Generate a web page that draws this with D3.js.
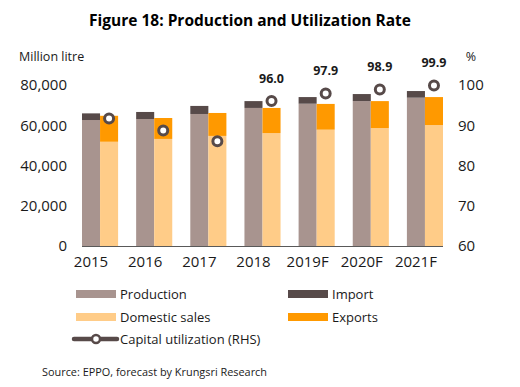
<!DOCTYPE html>
<html>
<head>
<meta charset="utf-8">
<script src="https://cdn.jsdelivr.net/npm/d3@7"></script>
<style>
  body { margin: 0; background: #fff; }
  svg { display: block; font-family: "Open Sans", sans-serif; }
</style>
</head>
<body>
<div id="chart"></div>
<script>
const years = ["2015", "2016", "2017", "2018", "2019F", "2020F", "2021F"];
const production = [62600, 63100, 65600, 68600, 70700, 72000, 73700];
const imports = [3300, 3500, 4000, 3400, 3300, 3500, 3300];
const domestic = [51800, 53200, 54700, 56100, 57800, 58600, 60100];
const exports = [12900, 10400, 11400, 12500, 12800, 13400, 13900];
const utilization = [91.7, 88.7, 86.0, 96.0, 97.9, 98.9, 99.9];
const labelled = [false, false, false, true, true, true, true];
const leftTicks = [0, 20000, 40000, 60000, 80000];
const rightTicks = [60, 70, 80, 90, 100];

const W = 520, H = 387;
const colors = {
  production: "#a8948f",
  import: "#574a49",
  domestic: "#ffcc88",
  exports: "#ff9900",
  util: "#574a49"
};

const svg = d3.select("#chart").append("svg")
  .attr("width", W)
  .attr("height", H);

const x = d3.scaleBand()
  .domain(years)
  .range([82, 443])
  .paddingInner(1 / 3)
  .paddingOuter(0);
const bw = x.bandwidth() / 2;

const y = d3.scaleLinear().domain([0, 80000]).range([246, 85]);
const y2 = d3.scaleLinear().domain([60, 100]).range([246, 85]);

// title
svg.append("text")
  .attr("x", 250)
  .attr("y", 26)
  .attr("text-anchor", "middle")
  .style("font-weight", "bold")
  .style("font-size", "15.5px")
  .style("fill", "#000")
  .text("Figure 18: Production and Utilization Rate");

// unit labels
svg.append("text")
  .attr("x", 19)
  .attr("y", 61)
  .style("font-size", "12.5px")
  .style("fill", "#1a1a1a")
  .text("Million litre");

svg.append("text")
  .attr("x", 471)
  .attr("y", 61)
  .attr("text-anchor", "middle")
  .style("font-size", "12.5px")
  .style("fill", "#1a1a1a")
  .text("%");

// =========================
// BARS
// =========================
const rows = years.map((yr, i) => ({
  yr, prod: production[i], imp: imports[i], dom: domestic[i], exp: exports[i]
}));

const g = svg.append("g");

g.selectAll(".prod").data(rows).join("rect")
  .attr("x", d => x(d.yr))
  .attr("y", d => y(d.prod))
  .attr("width", bw)
  .attr("height", d => y(0) - y(d.prod))
  .attr("fill", colors.production);

g.selectAll(".imp").data(rows).join("rect")
  .attr("x", d => x(d.yr))
  .attr("y", d => y(d.prod + d.imp))
  .attr("width", bw)
  .attr("height", d => y(d.prod) - y(d.prod + d.imp))
  .attr("fill", colors.import);

g.selectAll(".dom").data(rows).join("rect")
  .attr("x", d => x(d.yr) + bw)
  .attr("y", d => y(d.dom))
  .attr("width", bw)
  .attr("height", d => y(0) - y(d.dom))
  .attr("fill", colors.domestic);

g.selectAll(".exp").data(rows).join("rect")
  .attr("x", d => x(d.yr) + bw)
  .attr("y", d => y(d.dom + d.exp))
  .attr("width", bw)
  .attr("height", d => y(d.dom) - y(d.dom + d.exp))
  .attr("fill", colors.exports);

// baseline
svg.append("line")
  .attr("x1", x.range()[0])
  .attr("x2", x.range()[1])
  .attr("y1", y(0) + 0.5)
  .attr("y2", y(0) + 0.5)
  .attr("stroke", "#595959")
  .attr("stroke-width", 1);

// =========================
// UTILIZATION MARKERS
// =========================
const pts = years.map((yr, i) => ({ yr, v: utilization[i], lab: labelled[i] }));

svg.append("g").selectAll("circle").data(pts).join("circle")
  .attr("cx", d => x(d.yr) + bw * 1.5)
  .attr("cy", d => y2(d.v))
  .attr("r", 4.5)
  .attr("fill", "#fff")
  .attr("stroke", colors.util)
  .attr("stroke-width", 3);

svg.append("g").selectAll("text").data(pts.filter(d => d.lab)).join("text")
  .attr("x", d => x(d.yr) + bw * 1.5)
  .attr("y", d => y2(d.v) - 18)
  .attr("text-anchor", "middle")
  .style("font-weight", "bold")
  .style("font-size", "12.5px")
  .style("fill", "#1a1a1a")
  .text(d => d.v.toFixed(1));

// =========================
// AXES
// =========================
const leftAxis = svg.append("g")
  .attr("transform", "translate(67,0)")
  .call(d3.axisLeft(y).tickValues(leftTicks).tickSize(0).tickPadding(0)
    .tickFormat(d3.format(",")));

const rightAxis = svg.append("g")
  .attr("transform", "translate(458,0)")
  .call(d3.axisRight(y2).tickValues(rightTicks).tickSize(0).tickPadding(0));

const bottomAxis = svg.append("g")
  .attr("transform", `translate(${-bw / 2},${y(0)})`)
  .call(d3.axisBottom(x).tickSize(0).tickPadding(10));

[leftAxis, rightAxis, bottomAxis].forEach(a => {
  a.select(".domain").remove();
  a.selectAll("text")
    .style("font-family", "'Open Sans', sans-serif")
    .style("font-size", "15px")
    .style("fill", "#1a1a1a");
});

// =========================
// LEGEND
// =========================
const legendItems = [
  { name: "Production", color: colors.production, x: 76, y: 294 },
  { name: "Import", color: colors.import, x: 288, y: 294 },
  { name: "Domestic sales", color: colors.domestic, x: 76, y: 317 },
  { name: "Exports", color: colors.exports, x: 288, y: 317 }
];

const legend = svg.append("g");

legend.selectAll("rect").data(legendItems).join("rect")
  .attr("x", d => d.x)
  .attr("y", d => d.y - 4)
  .attr("width", 40)
  .attr("height", 8)
  .attr("fill", d => d.color);

legend.selectAll("text").data(legendItems).join("text")
  .attr("x", d => d.x + 44)
  .attr("y", d => d.y + 4.5)
  .style("font-size", "13px")
  .style("fill", "#1a1a1a")
  .text(d => d.name);

legend.append("line")
  .attr("x1", 74).attr("x2", 117)
  .attr("y1", 339).attr("y2", 339)
  .attr("stroke", colors.util)
  .attr("stroke-width", 4.5)
  .attr("stroke-linecap", "round");

legend.append("circle")
  .attr("cx", 96).attr("cy", 339)
  .attr("r", 4)
  .attr("fill", "#fff")
  .attr("stroke", colors.util)
  .attr("stroke-width", 2.5);

legend.append("text")
  .attr("x", 120)
  .attr("y", 343.5)
  .style("font-size", "13px")
  .style("fill", "#1a1a1a")
  .text("Capital utilization (RHS)");

// source
svg.append("text")
  .attr("x", 42)
  .attr("y", 376)
  .style("font-size", "10.9px")
  .style("fill", "#1a1a1a")
  .text("Source: EPPO, forecast by Krungsri Research");
</script>
</body>
</html>
